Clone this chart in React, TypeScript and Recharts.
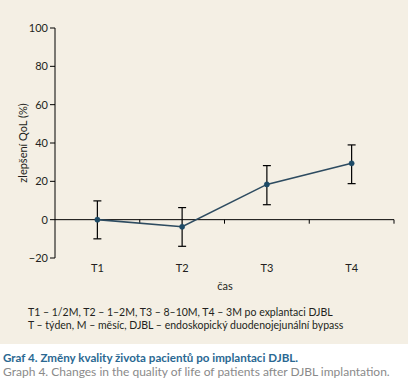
import React from 'react';
import { LineChart, Line, XAxis, YAxis, ReferenceLine, ErrorBar } from 'recharts';

const categories = ['T1', 'T2', 'T3', 'T4'];
const values = [0, -3.7, 18.4, 29.4];
const errLow = [10, 10.2, 10.6, 10.6];
const errHigh = [9.8, 10, 9.8, 9.6];
const yTicks = [-20, 0, 20, 40, 60, 80, 100];
const bandEdges = [1, 2, 3, 4];

const data = categories.map((c, i) => ({
  x: i + 0.5,
  name: c,
  value: values[i],
  err: [errLow[i], errHigh[i]],
}));

const FONT = 'Lato, "Open Sans", sans-serif';
const TEXT = '#231f20';

export default function App() {
  return (
    <div style={{ position: 'absolute', left: 0, top: 0, width: 411, height: 386, background: '#fff', fontFamily: FONT }}>
      <div style={{ position: 'absolute', left: 0, top: 0, width: 408, height: 344, background: '#f4efe4' }}>
        <LineChart width={408} height={344} data={data} margin={{ top: 28, right: 14, left: 0, bottom: 56 }}>
          <XAxis
            dataKey="x"
            type="number"
            domain={[0, 4]}
            ticks={[0.5, 1.5, 2.5, 3.5]}
            tickFormatter={(v: number) => categories[Math.floor(v)]}
            axisLine={false}
            tickLine={false}
            tickMargin={0}
            tick={{ fontSize: 11, fill: TEXT, fontFamily: FONT }}
            height={30}
          />
          <YAxis
            type="number"
            domain={[-20, 100]}
            ticks={yTicks}
            width={55}
            axisLine={{ stroke: '#000', strokeWidth: 1 }}
            tickLine={{ stroke: '#000', strokeWidth: 1 }}
            tickSize={5}
            tick={{ fontSize: 11, fill: TEXT, fontFamily: FONT }}
            tickFormatter={(v: number) => (v < 0 ? '\u2212' + Math.abs(v) : String(v))}
            label={{ value: 'zlepšení QoL (%)', angle: -90, position: 'insideLeft', dx: 18, style: { fontSize: 11, fill: TEXT, fontFamily: FONT, textAnchor: 'middle' } }}
          />
          <ReferenceLine y={0} stroke="#000" strokeWidth={1} />
          {bandEdges.map((e) => (
            <ReferenceLine key={e} segment={[{ x: e, y: 0 }, { x: e, y: -2.1 }]} stroke="#000" strokeWidth={1} ifOverflow="visible" />
          ))}
          <Line
            dataKey="value"
            stroke="#2d4b60"
            strokeWidth={1.6}
            dot={{ r: 2.6, fill: '#1d4a66', stroke: '#1d4a66', strokeWidth: 0.5 }}
            isAnimationActive={false}
          >
            <ErrorBar dataKey="err" width={4} stroke="#000" strokeWidth={1.2} direction="y" />
          </Line>
        </LineChart>
        <div style={{ position: 'absolute', left: 0, width: 450, top: 279, textAlign: 'center', fontSize: 11, color: TEXT }}>
          čas
        </div>
        <div style={{ position: 'absolute', left: 28, top: 306, fontSize: 10.5, color: TEXT, lineHeight: '13px', whiteSpace: 'nowrap' }}>
          <div>T1 – 1/2M, T2 – 1–2M, T3 – 8–10M, T4 – 3M po explantaci DJBL</div>
          <div>T – týden, M – měsíc, DJBL – endoskopický duodenojejunální bypass</div>
        </div>
      </div>
      <div style={{ position: 'absolute', left: 3, top: 351, fontSize: 12, lineHeight: '14px', whiteSpace: 'nowrap' }}>
        <div style={{ color: '#2a6892', fontWeight: 'bold', fontSize: 11.6 }}>Graf 4. Změny kvality života pacientů po implantaci DJBL.</div>
        <div style={{ color: '#8a8a8a' }}>Graph 4. Changes in the quality of life of patients after DJBL implantation.</div>
      </div>
    </div>
  );
}
